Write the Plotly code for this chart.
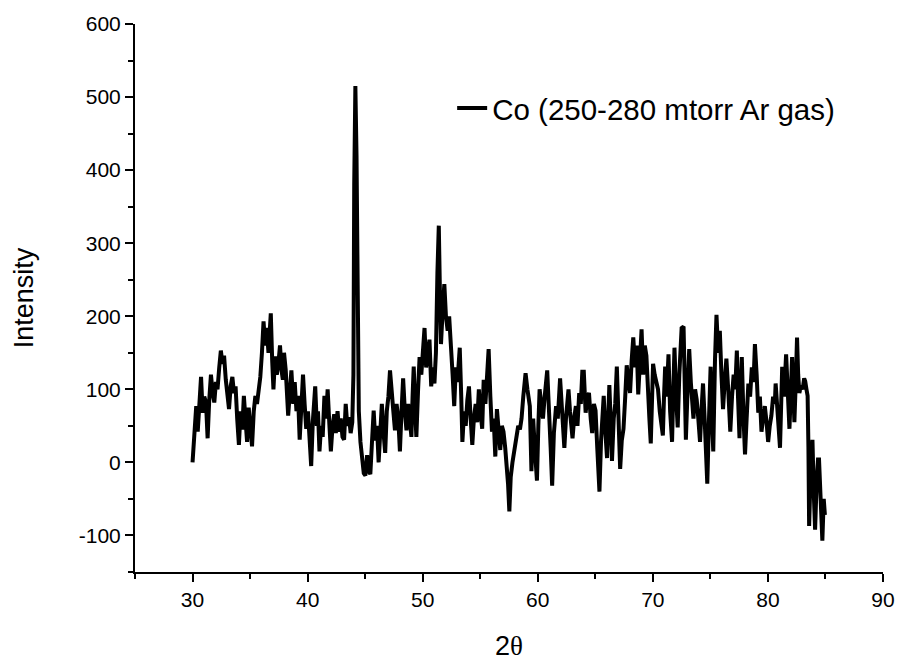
import plotly.graph_objects as go

two_theta = [
    30.00, 30.15, 30.32, 30.45, 30.60, 30.74, 30.88, 31.02, 31.17, 31.31, 31.45, 31.60, 31.75, 31.89,
    32.03, 32.17, 32.32, 32.46, 32.60, 32.74, 32.89, 33.03, 33.17, 33.32, 33.46, 33.60, 33.74, 33.88,
    34.03, 34.17, 34.32, 34.46, 34.60, 34.74, 34.88, 35.03, 35.17, 35.32, 35.46, 35.60, 35.75, 35.89,
    36.03, 36.17, 36.31, 36.45, 36.60, 36.80, 36.92, 37.03, 37.17, 37.32, 37.46, 37.60, 37.74, 37.85,
    37.95, 38.10, 38.31, 38.45, 38.59, 38.75, 38.88, 39.03, 39.17, 39.31, 39.45, 39.60, 39.74, 39.88,
    40.03, 40.17, 40.31, 40.45, 40.66, 40.80, 40.90, 41.03, 41.17, 41.31, 41.46, 41.60, 41.74, 41.88,
    42.02, 42.17, 42.31, 42.45, 42.60, 42.74, 42.88, 43.03, 43.17, 43.31, 43.45, 43.60, 43.74, 43.88,
    43.98, 44.05, 44.15, 44.25, 44.35, 44.45, 44.59, 44.74, 44.88, 45.02, 45.17, 45.30, 45.45, 45.60,
    45.74, 45.88, 46.03, 46.17, 46.31, 46.45, 46.60, 46.74, 46.88, 47.02, 47.16, 47.30, 47.45, 47.59,
    47.73, 47.88, 48.02, 48.16, 48.30, 48.45, 48.59, 48.74, 48.88, 49.02, 49.12, 49.22, 49.35, 49.45,
    49.60, 49.73, 49.88, 50.02, 50.16, 50.30, 50.45, 50.59, 50.74, 50.88, 51.02, 51.15, 51.28, 51.40,
    51.50, 51.59, 51.74, 51.88, 52.02, 52.17, 52.30, 52.45, 52.60, 52.74, 52.88, 53.02, 53.22, 53.35,
    53.45, 53.60, 53.74, 53.88, 54.02, 54.17, 54.31, 54.45, 54.60, 54.74, 54.88, 55.02, 55.17, 55.30,
    55.45, 55.60, 55.73, 55.88, 56.02, 56.17, 56.31, 56.45, 56.60, 56.74, 56.88, 57.02, 57.17, 57.30,
    57.42, 57.53, 57.65, 57.80, 58.02, 58.17, 58.30, 58.45, 58.59, 58.74, 58.94, 59.10, 59.31, 59.45,
    59.60, 59.74, 59.93, 60.05, 60.16, 60.30, 60.45, 60.60, 60.82, 60.92, 61.02, 61.12, 61.25, 61.40,
    61.59, 61.74, 61.94, 62.05, 62.17, 62.31, 62.45, 62.55, 62.67, 62.80, 63.02, 63.16, 63.31, 63.45,
    63.60, 63.74, 63.87, 64.00, 64.16, 64.30, 64.45, 64.60, 64.73, 64.88, 65.02, 65.17, 65.36, 65.50,
    65.60, 65.73, 65.88, 66.02, 66.12, 66.22, 66.35, 66.45, 66.60, 66.73, 66.87, 67.00, 67.16, 67.30,
    67.45, 67.60, 67.73, 67.88, 68.02, 68.16, 68.30, 68.45, 68.60, 68.73, 68.88, 69.02, 69.16, 69.30,
    69.44, 69.60, 69.70, 69.82, 69.92, 70.02, 70.16, 70.30, 70.45, 70.60, 70.72, 70.87, 70.97, 71.07,
    71.20, 71.36, 71.50, 71.67, 71.78, 71.88, 72.02, 72.16, 72.30, 72.50, 72.67, 72.78, 72.87, 73.02,
    73.16, 73.30, 73.45, 73.53, 73.67, 73.81, 73.95, 74.10, 74.22, 74.36, 74.50, 74.62, 74.73, 74.88,
    75.02, 75.12, 75.25, 75.40, 75.53, 75.68, 75.82, 75.96, 76.10, 76.24, 76.39, 76.55, 76.73, 76.88,
    77.02, 77.16, 77.30, 77.40, 77.53, 77.63, 77.73, 77.88, 78.01, 78.15, 78.30, 78.45, 78.60, 78.75,
    78.87, 79.02, 79.16, 79.30, 79.44, 79.58, 79.73, 79.88, 80.02, 80.16, 80.30, 80.45, 80.60, 80.67,
    80.80, 80.96, 81.05, 81.24, 81.40, 81.58, 81.72, 81.87, 82.00, 82.10, 82.20, 82.30, 82.42, 82.53,
    82.63, 82.73, 82.88, 83.02, 83.15, 83.24, 83.35, 83.45, 83.52, 83.58, 83.72, 83.87, 83.98, 84.10,
    84.25, 84.35, 84.44, 84.58, 84.73, 84.85, 84.95,
]

intensity = [
    0, 40, 77, 42, 90, 117, 68, 90, 82, 33, 85, 120, 95, 82,
    110, 100, 130, 153, 135, 146, 113, 95, 73, 105, 117, 95, 104, 60,
    24, 70, 45, 91, 60, 28, 75, 40, 22, 70, 91, 80, 100, 117,
    150, 193, 160, 184, 150, 204, 140, 100, 145, 120, 135, 160, 125, 113,
    150, 126, 64, 100, 126, 80, 110, 70, 91, 31, 75, 120, 80, 46,
    70, 20, -5, 55, 104, 50, 70, 15, 50, 35, 91, 60, 100, 55,
    15, 50, 66, 40, 70, 42, 60, 35, 31, 80, 50, 62, 40, 55,
    120, 380, 515, 420, 150, 70, 28, 10, -15, -18, 10, -12, -16, 30,
    71, 30, 50, 0, 45, 80, 40, 13, 70, 90, 126, 90, 70, 44,
    80, 60, 15, 70, 115, 70, 44, 80, 55, 35, 90, 131, 70, 35,
    100, 144, 120, 150, 184, 130, 155, 168, 104, 130, 108, 150, 260, 324,
    230, 162, 210, 244, 200, 180, 200, 144, 120, 77, 130, 110, 157, 90,
    28, 70, 50, 85, 104, 60, 24, 60, 80, 55, 100, 70, 46, 113,
    80, 120, 155, 90, 42, 60, 8, 73, 40, 17, 50, 42, 20, 0,
    -30, -67, -20, 0, 24, 35, 50, 45, 60, 90, 122, 100, 77, -12,
    60, 20, -25, 50, 100, 80, 60, 90, 126, 90, 64, 20, -32, 40,
    77, 60, 115, 80, 60, 20, 60, 80, 100, 70, 33, 60, 77, 50,
    95, 80, 124, 124, 68, 90, 95, 60, 40, 80, 71, 20, -40, 30,
    60, 91, 40, 6, 60, 106, 50, 2, 60, 80, 131, 60, -9, 30,
    46, 90, 133, 110, 95, 140, 171, 130, 160, 93, 140, 182, 120, 160,
    146, 80, 60, 26, 80, 135, 120, 110, 100, 70, 50, 37, 90, 131,
    90, 148, 70, 28, 100, 157, 90, 48, 120, 184, 186, 100, 31, 100,
    155, 110, 70, 60, 100, 86, 60, 28, 70, 108, 60, 10, -29, 60,
    131, 70, 15, 140, 202, 150, 180, 120, 73, 110, 142, 100, 42, 90,
    120, 100, 153, 90, 33, 100, 144, 60, 11, 60, 108, 90, 130, 110,
    162, 120, 68, 90, 42, 60, 77, 55, 28, 50, 64, 90, 80, 108,
    70, 33, 20, 131, 90, 148, 100, 46, 100, 144, 100, 55, 110, 171,
    120, 95, 105, 100, 115, 111, 100, 91, 20, -87, -10, 31, -40, -92,
    -20, 4, 4, -60, -107, -50, -72,
]

series_name = "Co (250-280 mtorr Ar gas)"
x_title = "2<span style='font-family:Liberation Serif, serif'>θ</span>"
y_title = "Intensity"

x_tick_vals = [30, 40, 50, 60, 70, 80, 90]
x_tick_text = ["30", "40", "50", "60", "70", "80", "90"]
y_tick_vals = [-100, 0, 100, 200, 300, 400, 500, 600]
y_tick_text = ["-100", "0", "100", "200", "300", "400", "500", "600"]

FONT = "Liberation Sans, Arial, sans-serif"

fig = go.Figure()
fig.add_trace(go.Scatter(
    x=two_theta, y=intensity, mode="lines", name=series_name,
    line=dict(color="#000000", width=4),
))

axis_common = dict(
    showline=True, linecolor="black", linewidth=2, mirror=False,
    showgrid=False, zeroline=False,
    ticks="outside", ticklen=8, tickwidth=2, tickcolor="black",
    tickfont=dict(family=FONT, size=21, color="black"),
    ticklabeloverflow="allow",
)

fig.update_layout(
    width=907, height=668,
    margin=dict(l=135, r=12, t=13, b=86),
    paper_bgcolor="white", plot_bgcolor="white",
    showlegend=True,
    legend=dict(
        x=0.424, y=0.846, xanchor="left", yanchor="middle",
        bgcolor="rgba(0,0,0,0)", borderwidth=0,
        font=dict(family=FONT, size=29.5, color="black"),
    ),
    xaxis=dict(
        range=[25, 90], tickmode="array", tickvals=x_tick_vals, ticktext=x_tick_text,
        minor=dict(dtick=5, tick0=0, ticks="outside", ticklen=5, tickwidth=2, tickcolor="black"),
        title=dict(text=x_title, font=dict(family=FONT, size=27, color="black"), standoff=26),
        **axis_common,
    ),
    yaxis=dict(
        range=[-150, 600], tickmode="array", tickvals=y_tick_vals, ticktext=y_tick_text,
        minor=dict(dtick=50, tick0=0, ticks="outside", ticklen=5, tickwidth=2, tickcolor="black"),
        title=dict(text=y_title, font=dict(family=FONT, size=27, color="black"), standoff=37),
        **axis_common,
    ),
)

# remove the default page margin so the 907x668 figure fills the window exactly
fig.write_html(
    "out.html",
    config={"displayModeBar": False},
    post_script="document.body.style.margin='0';document.body.style.overflow='hidden';",
)
